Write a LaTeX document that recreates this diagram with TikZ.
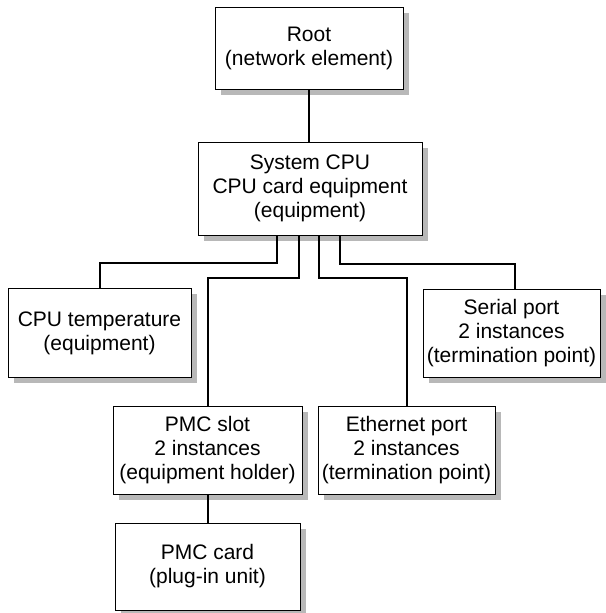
\documentclass[tikz,border=0pt]{standalone}
\usepackage{fontspec}
\setmainfont{Liberation Sans}
\usetikzlibrary{shadows}
\begin{document}
\begin{tikzpicture}[x=1pt,y=-1pt,
  box/.style={draw, line width=1pt, fill=white, align=center, inner sep=0pt,
    font=\fontsize{21}{24}\selectfont,
    drop shadow={shadow xshift=5.5pt, shadow yshift=-5.5pt, fill=black!28, opacity=1}},
  wire/.style={line width=2pt, line join=miter}]
\useasboundingbox (0,0) rectangle (605,613);

% hierarchy boxes
\node[box, minimum width=188pt, minimum height=82pt] (root) at (309,48)
  {Root\\(network element)};
\node[box, minimum width=224pt, minimum height=93pt] (cpu) at (310,188.5)
  {System CPU\\CPU card equipment\\(equipment)};
\node[box, minimum width=183pt, minimum height=89pt] (temp) at (99.5,333)
  {CPU temperature\\(equipment)};
\node[box, minimum width=177pt, minimum height=88pt] (serial) at (511.5,333)
  {Serial port\\2 instances\\(termination point)};
\node[box, minimum width=189pt, minimum height=88pt] (pmcslot) at (207.5,450)
  {PMC slot\\2 instances\\(equipment holder)};
\node[box, minimum width=177pt, minimum height=88pt] (ethernet) at (406.5,450)
  {Ethernet port\\2 instances\\(termination point)};
\node[box, minimum width=185pt, minimum height=87pt] (pmccard) at (207.5,566.5)
  {PMC card\\(plug-in unit)};

% containment links
\draw[wire] (root.south) -- (root.south |- cpu.north);
\draw[wire] ([xshift=-33pt]cpu.south) -- ++(0,27.5) -| (temp.north);
\draw[wire] ([xshift=-11.5pt]cpu.south) -- ++(0,42) -| (pmcslot.north);
\draw[wire] ([xshift=9pt]cpu.south) -- ++(0,42) -| (ethernet.north);
\draw[wire] ([xshift=30pt]cpu.south) -- ++(0,28.5) -| ([xshift=3.5pt]serial.north);
\draw[wire] (pmcslot.south) -- (pmccard.north);
\end{tikzpicture}
\end{document}
